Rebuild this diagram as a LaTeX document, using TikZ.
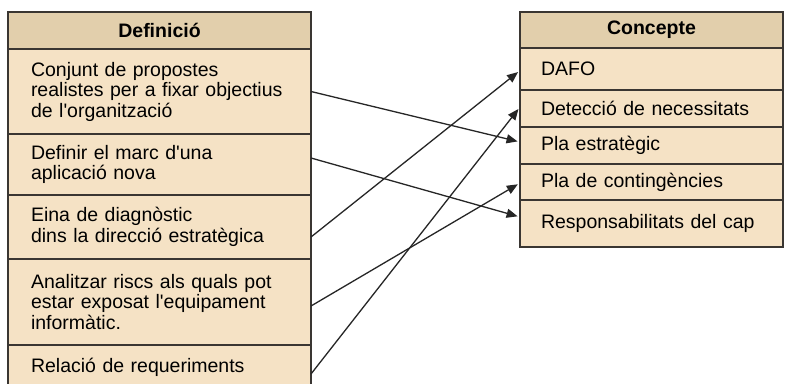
\documentclass[tikz,border=0pt]{standalone}
\usepackage{fontspec}
\setmainfont{Liberation Sans}[Ligatures=TeXOff]
\usetikzlibrary{arrows.meta}
\definecolor{headfill}{HTML}{E2CFAC}
\definecolor{rowfill}{HTML}{F5E2C5}
\definecolor{edge}{HTML}{3A3632}
\begin{document}
\begin{tikzpicture}[x=1pt,y=-1pt,
  cell/.style={draw=edge, line width=1.4pt, anchor=north west, outer sep=0pt,
    font=\fontsize{19.5}{20.5}\selectfont},
  lhead/.style={cell, fill=headfill, minimum width=303pt, text width=257pt,
    inner xsep=23pt, inner ysep=0pt, align=center, font=\fontsize{19.5}{20.5}\selectfont\bfseries},
  rhead/.style={cell, fill=headfill, minimum width=263pt, text width=221pt,
    inner xsep=21pt, inner ysep=0pt, align=center, font=\fontsize{19.5}{20.5}\selectfont\bfseries},
  lrow/.style={cell, fill=rowfill, minimum width=303pt, text width=257pt,
    inner xsep=23pt, inner ysep=0pt, align=left},
  rrow/.style={cell, fill=rowfill, minimum width=263pt, text width=221pt,
    inner xsep=21pt, inner ysep=0pt, align=left},
  link/.style={draw=black!85, line width=1.3pt,
    -{Triangle[length=11pt,width=9pt]}, shorten >=2.5pt}]
\path[use as bounding box, clip] (0,0) rectangle (787,383);
\fill[white] (0,0) rectangle (787,383);

% Definitions column
\node[lhead, minimum height=37pt] (dh) at (8,12) {Definició};
\node[lrow, minimum height=85pt] (d1) at (8,49)
  {Conjunt de propostes\\realistes per a fixar objectius\\de l'organització};
\node[lrow, minimum height=61pt] (d2) at (8,134)
  {Definir el marc d'una\\aplicació nova};
\node[lrow, minimum height=64pt] (d3) at (8,195)
  {Eina de diagnòstic\\dins la direcció estratègica};
\node[lrow, minimum height=86pt] (d4) at (8,259)
  {Analitzar riscs als quals pot\\estar exposat l'equipament\\informàtic.};
\node[lrow, minimum height=45pt] (d5) at (8,345)
  {Relació de requeriments};

% Concepts column
\node[rhead, minimum height=36pt] (ch) at (520,12) {Concepte};
\node[rrow, minimum height=42pt] (c1) at (520,48) {DAFO};
\node[rrow, minimum height=37pt] (c2) at (520,90) {Detecció de necessitats};
\node[rrow, minimum height=37pt] (c3) at (520,127) {Pla estratègic};
\node[rrow, minimum height=36pt] (c4) at (520,164) {Pla de contingències};
\node[rrow, minimum height=47pt] (c5) at (520,200) {Responsabilitats del cap};

% Matching arrows
\draw[link] (d1.east) -- ([yshift=3.5pt]c3.west);
\draw[link] ([yshift=6.5pt]d2.east) -- ([yshift=6.5pt]c5.west);
\draw[link] ([yshift=-10pt]d3.east) -- ([yshift=-1.5pt]c1.west);
\draw[link] ([yshift=-4pt]d4.east) -- ([yshift=-1pt]c4.west);
\draw[link] ([yshift=-6.5pt]d5.east) -- ([yshift=1.5pt]c2.west);
\end{tikzpicture}
\end{document}
